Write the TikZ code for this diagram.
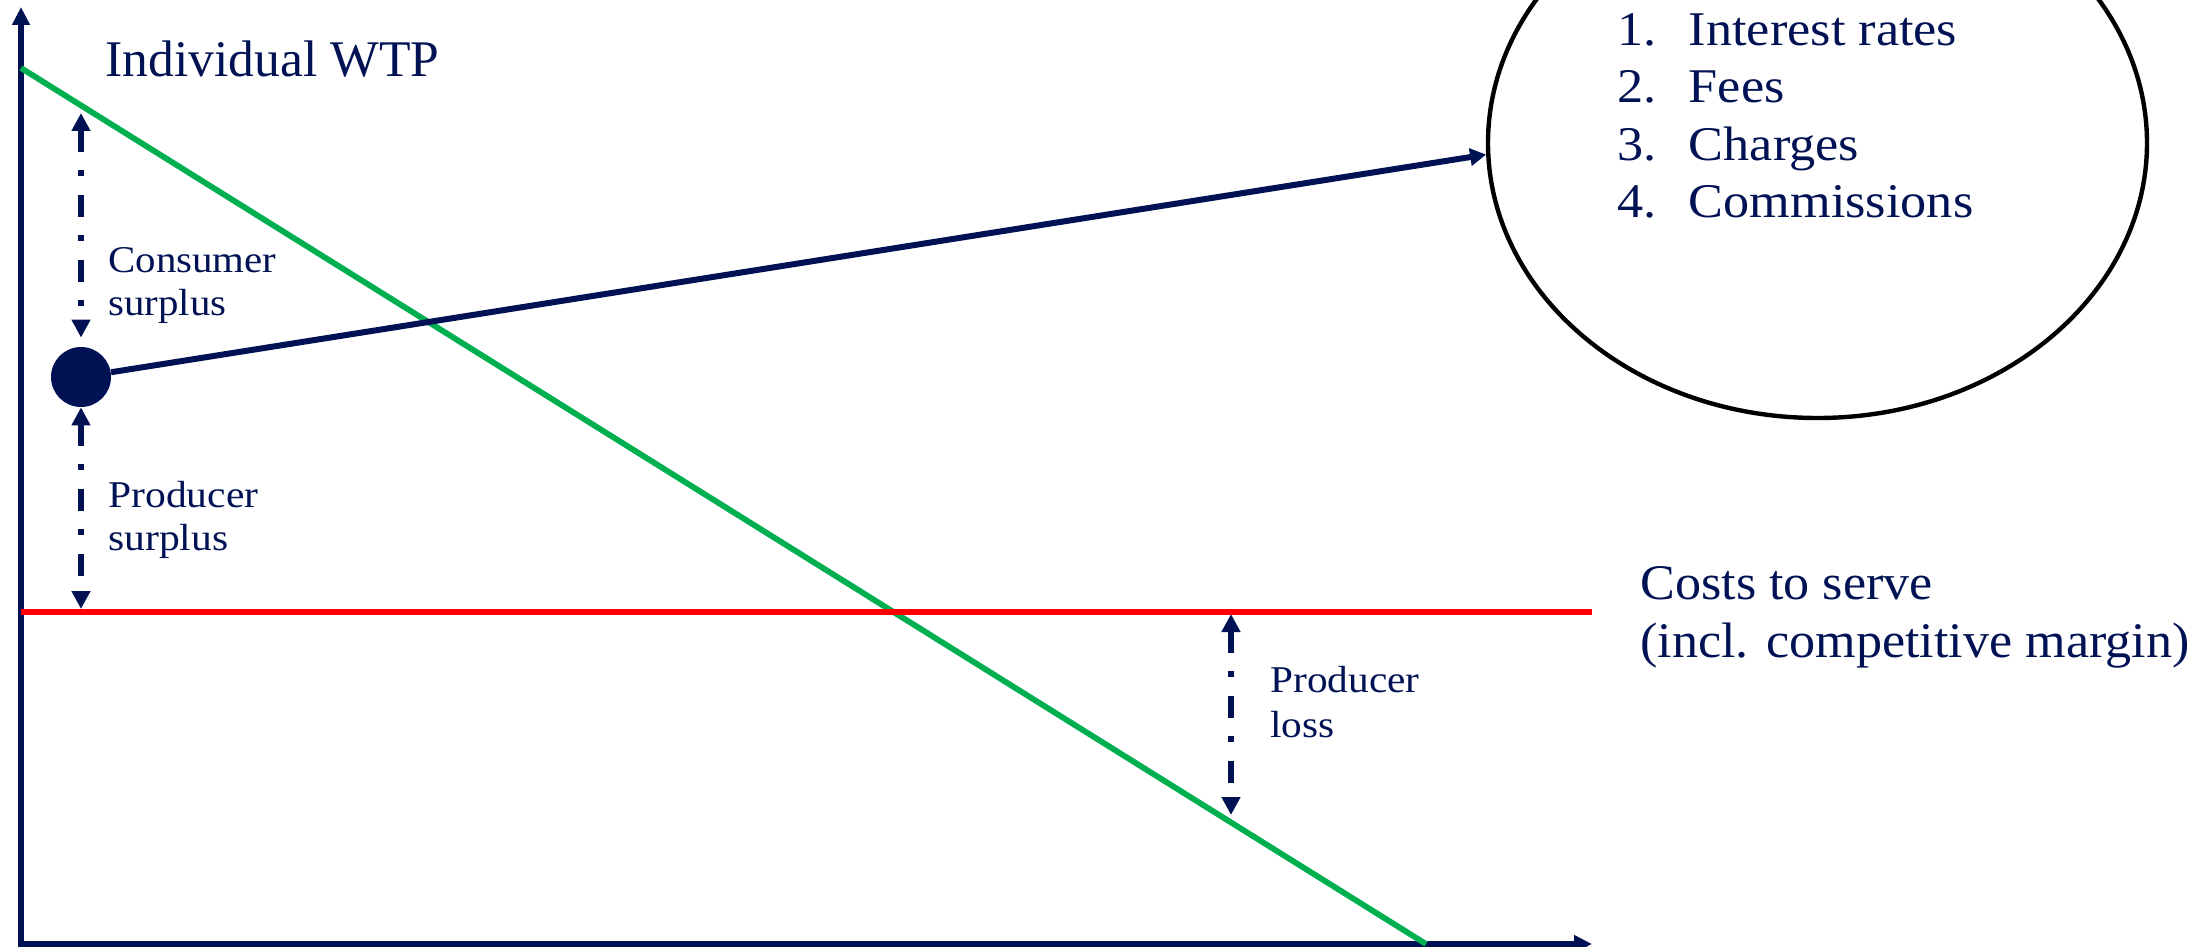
\documentclass[tikz,border=0pt]{standalone}
\usepackage{fontspec}
\setmainfont{Liberation Serif}
\usepackage{graphicx}
\usetikzlibrary{arrows.meta,shapes.geometric}
\definecolor{navy}{RGB}{0,18,84}
\definecolor{wtpgreen}{RGB}{0,176,80}
\definecolor{costred}{RGB}{255,0,0}
\newcommand{\mylabel}[4]{{\fontsize{#1}{#2}\selectfont\resizebox{#3}{\height}{\begin{tabular}[t]{@{}l@{}}#4\end{tabular}}}}
\newcommand{\mylist}[4]{{\fontsize{#1}{#2}\selectfont\resizebox{#3}{\height}{\begin{tabular}[t]{@{}l@{\hspace{15pt}}l@{}}#4\end{tabular}}}}
\tikzset{
  axisline/.style={navy, line width=3pt, {Triangle[width=8.5pt,length=9pt]}-{Triangle[width=8.5pt,length=9pt]}},
  demand/.style={wtpgreen, line width=2.9pt},
  costline/.style={costred, line width=3pt},
  darrow/.style={navy, line width=3pt, dash pattern=on 11pt off 9pt on 3pt off 9.5pt,
    {Triangle[width=9pt,length=9pt]}-{Triangle[width=9pt,length=9pt]}},
  link/.style={navy, line width=3pt, -{Triangle[width=8.5pt,length=8pt]}},
  txt/.style={inner sep=0pt, anchor=base west, text=navy},
  dotnode/.style={circle, fill=navy, minimum size=30pt, inner sep=0pt},
  bubble/.style={ellipse, draw=black, line width=2.2pt, minimum width=329.5pt, minimum height=275pt, inner sep=0pt}
}
\begin{document}
\begin{tikzpicture}[x=0.5pt,y=-0.5pt]
\useasboundingbox (0,0) rectangle (2207,947);
\clip (0,0) rectangle (2207,947);
% axes
\coordinate (ytip) at (21,7);
\coordinate (orig) at (21,944);
\coordinate (xtip) at (1592,944);
\draw[axisline] (ytip) -- (orig) -- (xtip);
% demand and cost lines
\coordinate (dA) at (21,68);
\coordinate (dB) at (1426,944);
\draw[demand] (dA) -- (dB);
\coordinate (cA) at (21,612);
\coordinate (cB) at (1592,612);
\draw[costline] (cA) -- (cB);
% bubble and dot
\node[bubble] (ell) at (1817.5,143) {};
\node[dotnode] (dot) at (81,377) {};
\draw[link] (dot) -- (ell.182);
% dashed arrows
\coordinate (csTop) at (81,113);
\draw[darrow] (csTop) -- ([yshift=4.5pt]dot.north);
\coordinate (psBot) at (81,609);
\draw[darrow] (dot.south) -- (psBot);
\coordinate (plTop) at (1231,614);
\coordinate (plBot) at (1231,815);
\draw[darrow] (plTop) -- (plBot);
% texts
\node[txt] (wtp) at (105,76) {\mylabel{25.7}{30}{167pt}{Individual WTP}};
\node[txt] (cs) at (108,272) {\mylabel{18.9}{21.5}{84pt}{Consumer\\surplus}};
\node[txt] (ps) at (108,507) {\mylabel{18.9}{21.5}{75pt}{Producer\\surplus}};
\node[txt] (pl) at (1270,692) {\mylabel{18.9}{22.5}{74.5pt}{Producer\\loss}};
\node[txt] (costs) at (1640,599) {\mylabel{24.9}{29}{274.5pt}{Costs to serve\\(incl. competitive margin)}};
\node[txt] (items) at (1617,46) {\mylist{24.2}{28.5}{178pt}{1. & Interest rates\\2. & Fees\\3. & Charges\\4. & Commissions}};
\end{tikzpicture}
\end{document}
